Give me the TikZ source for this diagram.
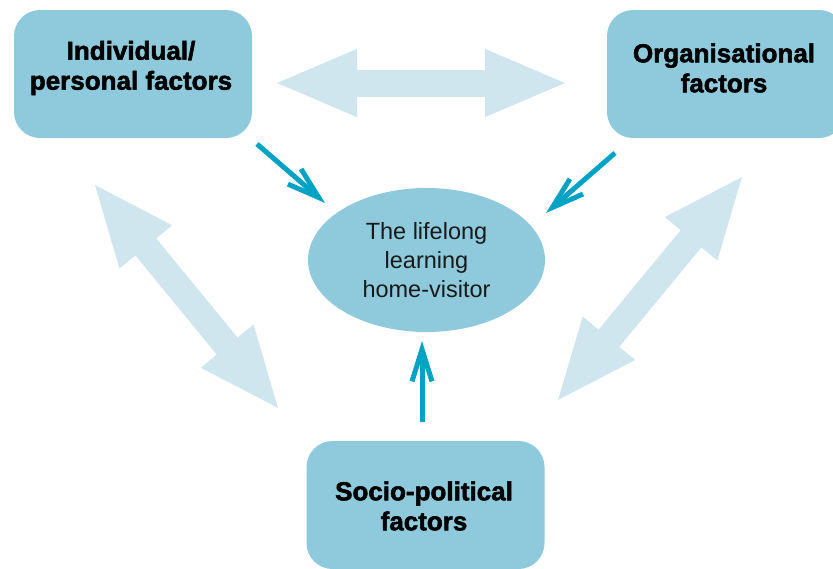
\documentclass[tikz,border=0pt]{standalone}
\usepackage{fontspec}
\setmainfont{Liberation Sans}
\newfontfamily\boxfont{Liberation Sans}[FakeBold=2]
\usetikzlibrary{arrows.meta,shapes.geometric}
\definecolor{boxblue}{RGB}{142,202,220}
\definecolor{paleblue}{RGB}{208,230,238}
\definecolor{tealc}{RGB}{0,163,196}
\definecolor{txt}{RGB}{25,25,25}
\tikzset{
  factorbox/.style={fill=boxblue, rounded corners=26pt, minimum width=238pt, minimum height=128pt, inner sep=0pt},
  factortext/.style={font=\boxfont\bfseries\fontsize{26}{30}\selectfont, align=center, text=black, inner sep=0pt},
  bigarrow/.style={draw=paleblue, line width=27pt, {Triangle[length=84pt,width=61pt,fill=paleblue]}-{Triangle[length=84pt,width=61pt,fill=paleblue]}},
  tealarrow/.style={draw=tealc, line width=5pt, -{Straight Barb[length=32pt,width=20pt]}}
}
\begin{document}
\begin{tikzpicture}[x=1pt,y=-1pt]
\useasboundingbox (0,0) rectangle (833,568);
\begin{scope}
\clip (0,0) rectangle (833,568);
% boxes
\node[factorbox] (ind) at (133,74) {};
\node[factortext] (indt) at (131,68) {Individual/\\personal factors};
\node[factorbox] (org) at (726,74) {};
\node[factortext] (orgt) at (724,68) {Organisational\\factors};
\node[factorbox] (soc) at (425.5,505) {};
\node[factortext] (soct) at (424,506) {Socio-political\\factors};
% ellipse
\node[ellipse, fill=boxblue, minimum width=237pt, minimum height=144pt, inner sep=0pt,
      font=\fontsize{23.5}{29}\selectfont, text=txt, align=center] (life) at (426.5,260)
      {The lifelong\\learning\\home-visitor};
\end{scope}
% pale double arrows
\coordinate (h1) at (273,83);
\coordinate (h2) at (569,83);
\coordinate (l1) at (92.5,182);
\coordinate (l2) at (280.5,411);
\coordinate (r1) at (744.5,174);
\coordinate (r2) at (555.5,403);
\draw[bigarrow] (h1) -- (h2);
\draw[bigarrow] (l1) -- (l2);
\draw[bigarrow] (r1) -- (r2);
% teal arrows
\coordinate (t1a) at (257,144);
\coordinate (t1b) at (325,203);
\coordinate (t2a) at (615,153);
\coordinate (t2b) at (546,213);
\coordinate (t3a) at (422,422);
\coordinate (t3b) at (422,341);
\draw[tealarrow] (t1a) -- (t1b);
\draw[tealarrow] (t2a) -- (t2b);
\draw[tealarrow] (t3a) -- (t3b);
\end{tikzpicture}
\end{document}
